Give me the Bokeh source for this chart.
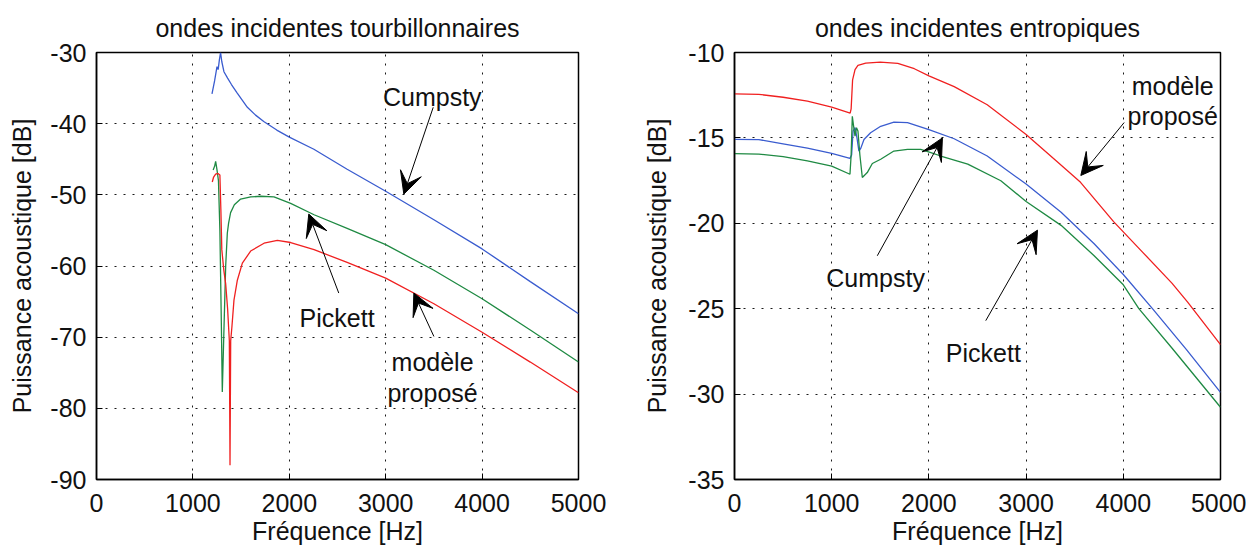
from bokeh.plotting import figure
from bokeh.layouts import row
from bokeh.models import Range1d, FixedTicker, Arrow, VeeHead, Label
from bokeh.embed import file_html
from bokeh.resources import INLINE

FONT = "Liberation Sans"
FS = "25px"

# ---------------- data ----------------
freq_ticks = [0, 1000, 2000, 3000, 4000, 5000]
freq_tick_labels = ["0", "1000", "2000", "3000", "4000", "5000"]

left_y_ticks = [-90, -80, -70, -60, -50, -40, -30]
left_y_tick_labels = ["-90", "-80", "-70", "-60", "-50", "-40", "-30"]
right_y_ticks = [-35, -30, -25, -20, -15, -10]
right_y_tick_labels = ["-35", "-30", "-25", "-20", "-15", "-10"]

# left panel : ondes incidentes tourbillonnaires
tb_cumpsty_f = [1198, 1225, 1250, 1262, 1275, 1287, 1300, 1322, 1360, 1400, 1460, 1565, 1650, 1735,
                1870, 2000, 2255, 2600, 3000, 3500, 4000, 4500, 5000]
tb_cumpsty_db = [-35.8, -34.0, -32.0, -32.4, -31.0, -30.0, -31.3, -32.7, -33.6, -34.5, -35.7, -37.7, -38.8,
                 -39.7, -40.9, -41.9, -43.6, -46.4, -49.5, -53.5, -57.6, -62.2, -66.7]

tb_pickett_f = [1210, 1225, 1236, 1250, 1265, 1280, 1295, 1305, 1320, 1340, 1357, 1370, 1391, 1430, 1495,
                1600, 1703, 1841, 2014, 2257, 2600, 3000, 3500, 4000, 4500, 5000]
tb_pickett_db = [-46.5, -46.0, -45.3, -46.5, -48.0, -55.0, -68.0, -77.7, -70.0, -60.0, -55.4, -54.0, -52.5,
                 -51.4, -50.6, -50.3, -50.2, -50.3, -51.2, -52.8, -54.7, -57.0, -60.6, -64.6, -69.0, -73.5]

tb_modele_f = [1201, 1215, 1236, 1260, 1280, 1290, 1300, 1320, 1340, 1360, 1378, 1385, 1392, 1405, 1426,
               1461, 1513, 1599, 1738, 1876, 2014, 2257, 2600, 3000, 3500, 4000, 4500, 5000]
tb_modele_db = [-48.2, -47.5, -47.1, -47.0, -47.2, -52.0, -57.7, -60.5, -62.5, -66.0, -70.5, -88.0, -70.5,
                -68.5, -64.8, -62.0, -59.6, -57.9, -56.8, -56.4, -56.7, -57.7, -59.5, -61.7, -65.3, -69.3,
                -73.5, -77.8]

# right panel : ondes incidentes entropiques
en_modele_f = [0, 250, 500, 750, 1000, 1190, 1200, 1215, 1240, 1270, 1350, 1500, 1680, 1850, 2000, 2260,
               2600, 3000, 3300, 3560, 3900, 4200, 4500, 4660, 5000]
en_modele_db = [-12.42, -12.45, -12.62, -12.85, -13.2, -13.55, -13.3, -11.6, -11.0, -10.75, -10.62, -10.56,
                -10.64, -10.95, -11.37, -12.0, -13.06, -14.8, -16.3, -17.6, -19.9, -21.7, -23.5, -24.6, -27.1]

en_cumpsty_f = [0, 250, 500, 750, 1000, 1188, 1205, 1220, 1240, 1260, 1280, 1300, 1332, 1400, 1504, 1640,
                1780, 2000, 2260, 2600, 3000, 3360, 3700, 4000, 4300, 4650, 5000]
en_cumpsty_db = [-15.09, -15.1, -15.35, -15.6, -15.9, -16.2, -16.0, -14.6, -14.4, -15.0, -15.77, -15.6,
                 -15.09, -14.70, -14.32, -14.08, -14.11, -14.51, -15.05, -16.06, -17.7, -19.35, -21.2, -23.0,
                 -25.0, -27.4, -29.9]

en_pickett_f = [0, 250, 500, 750, 1000, 1188, 1200, 1212, 1225, 1240, 1255, 1270, 1290, 1315, 1366, 1418,
                1504, 1640, 1780, 1916, 2020, 2122, 2400, 2740, 3000, 3360, 3700, 4000, 4160, 4500, 5000]
en_pickett_db = [-15.92, -15.95, -16.1, -16.35, -16.65, -17.13, -16.0, -13.74, -14.3, -14.9, -14.4, -14.6,
                 -16.0, -17.32, -17.03, -16.5, -16.25, -15.77, -15.67, -15.67, -15.86, -16.06, -16.54,
                 -17.51, -18.72, -20.12, -21.9, -23.6, -25.0, -27.3, -30.77]

# annotations (text lines, text x, text baselines, arrow tail x/y, arrow tip x/y)
tb_notes = [
    (["Cumpsty"], 3483, [-36.2], (3493, -37.7), (3188, -49.9)),
    (["Pickett"], 2496, [-67.3], (2513, -63.8), (2202, -52.7)),
    (["modèle", "proposé"], 3486, [-73.5, -77.8], (3500, -69.9), (3292, -63.8)),
]
en_notes = [
    (["Cumpsty"], 1452, [-23.2], (1469, -21.9), (2139, -15.0)),
    (["Pickett"], 2560, [-27.6], (2585, -25.7), (3117, -20.4)),
    (["modèle", "proposé"], 4508, [-11.96, -13.74], (4009, -14.1), (3563, -17.2)),
]

BLUE = "#3a5ccf"
GREEN = "#1f8a43"
RED = "#f02020"


def make_fig(width, mb_left, mb_right, mb_top, y_lo, y_hi, y_ticks, y_labels, title,
             title_standoff, ylabel_standoff):
    p = figure(width=width, height=550, output_backend="svg", toolbar_location=None,
               x_range=Range1d(0, 5000), y_range=Range1d(y_lo, y_hi),
               min_border_left=mb_left, min_border_right=mb_right,
               min_border_top=mb_top, min_border_bottom=71,
               background_fill_color="white", border_fill_color="white",
               outline_line_color="black", outline_line_width=1.5)
    p.title.text = title
    p.title.align = "center"
    p.title.vertical_align = "top"
    p.title.text_font = FONT
    p.title.text_font_size = FS
    p.title.text_font_style = "normal"
    p.title.text_color = "#111111"
    p.title.standoff = title_standoff

    p.xaxis.ticker = FixedTicker(ticks=freq_ticks)
    p.xaxis.major_label_overrides = dict(zip(freq_ticks, freq_tick_labels))
    p.yaxis.ticker = FixedTicker(ticks=y_ticks)
    p.yaxis.major_label_overrides = dict(zip(y_ticks, y_labels))
    for ax in (p.xaxis[0], p.yaxis[0]):
        ax.major_tick_in = 6
        ax.major_tick_out = 0
        ax.minor_tick_line_color = None
        ax.axis_line_color = "black"
        ax.axis_line_width = 1.5
        ax.major_tick_line_color = "black"
        ax.major_label_text_font = FONT
        ax.major_label_text_font_size = FS
        ax.major_label_text_color = "#111111"
        ax.axis_label_text_font = FONT
        ax.axis_label_text_font_size = FS
        ax.axis_label_text_font_style = "normal"
        ax.axis_label_text_color = "#111111"
    p.xaxis.axis_label = "Fréquence [Hz]"
    p.xaxis.major_label_standoff = 14
    p.xaxis.axis_label_standoff = 2
    p.yaxis.axis_label = "Puissance acoustique [dB]"
    p.yaxis.major_label_standoff = 10
    p.yaxis.axis_label_standoff = ylabel_standoff

    p.xgrid.ticker = FixedTicker(ticks=freq_ticks)
    p.ygrid.ticker = FixedTicker(ticks=y_ticks)
    for g in (p.xgrid[0], p.ygrid[0]):
        g.grid_line_color = "black"
        g.grid_line_dash = "2 7"
        g.grid_line_width = 1
        g.grid_line_alpha = 0.9
    return p


def add_notes(p, notes):
    for texts, tx, tys, tail, tip in notes:
        for t, ty in zip(texts, tys):
            p.add_layout(Label(x=tx, y=ty, text=t, text_align="center", text_baseline="alphabetic",
                               text_font=FONT, text_font_size=FS, text_color="#111111"))
        p.add_layout(Arrow(end=VeeHead(size=22, fill_color="black", line_color="black", line_width=1),
                           x_start=tail[0], y_start=tail[1], x_end=tip[0], y_end=tip[1],
                           line_color="black", line_width=1))


p1 = make_fig(640, 96, 62, 52, -90, -30, left_y_ticks, left_y_tick_labels,
              "ondes incidentes tourbillonnaires", 17, 11)
p1.line(tb_cumpsty_f, tb_cumpsty_db, line_color=BLUE, line_width=1.3)
p1.line(tb_pickett_f, tb_pickett_db, line_color=GREEN, line_width=1.3)
p1.line(tb_modele_f, tb_modele_db, line_color=RED, line_width=1.3)
add_notes(p1, tb_notes)

p2 = make_fig(606, 94, 26, 52, -35, -10, right_y_ticks, right_y_tick_labels,
              "ondes incidentes entropiques", 17, 14)
p2.line(en_modele_f, en_modele_db, line_color=RED, line_width=1.3)
p2.line(en_cumpsty_f, en_cumpsty_db, line_color=BLUE, line_width=1.3)
p2.line(en_pickett_f, en_pickett_db, line_color=GREEN, line_width=1.3)
add_notes(p2, en_notes)

layout = row(p1, p2)
open("out.html", "w").write(file_html(layout, INLINE))
